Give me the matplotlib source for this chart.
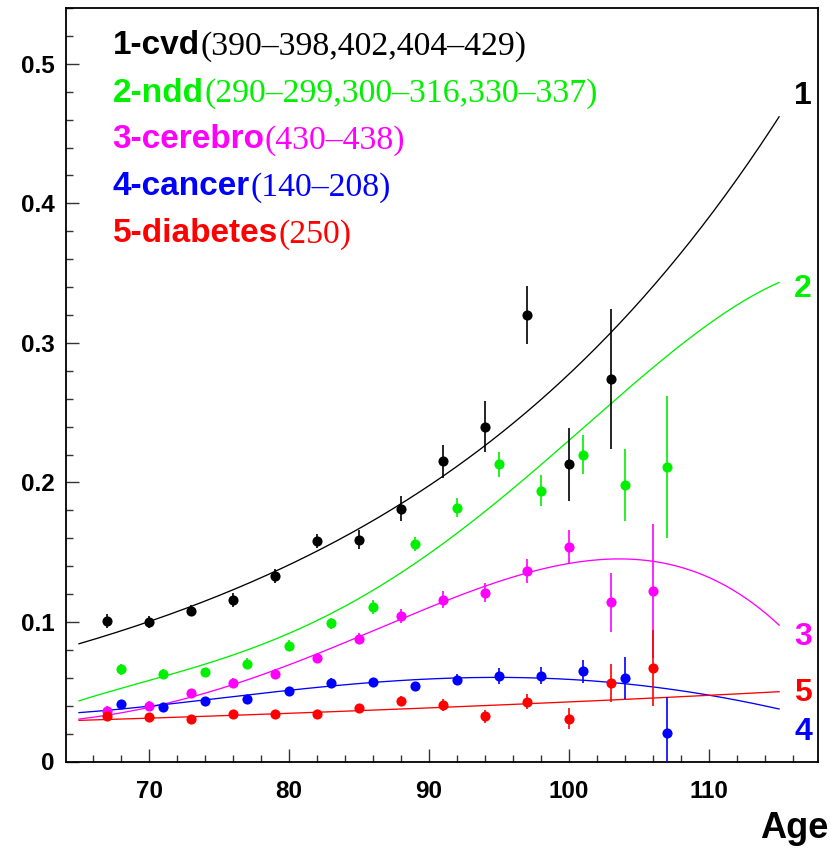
import numpy as np
import matplotlib
matplotlib.use("Agg")
import matplotlib.pyplot as plt
from matplotlib.ticker import MultipleLocator, FuncFormatter

# ---------------- data ----------------
ages_odd = [67, 70, 73, 76, 79, 82, 85, 88, 91, 94, 97, 100, 103]
ages_odd14 = [67, 70, 73, 76, 79, 82, 85, 88, 91, 94, 97, 100, 103, 106]
ages_even = [68, 71, 74, 77, 80, 83, 86, 89, 92, 95, 98, 101, 104, 107]

cvd = [0.101, 0.100, 0.108, 0.116, 0.133, 0.158, 0.159, 0.181, 0.215, 0.240, 0.320, 0.213, 0.274]
cvd_err = [0.005, 0.004, 0.004, 0.005, 0.005, 0.005, 0.007, 0.009, 0.012, 0.018, 0.021, 0.026, 0.050]

ndd = [0.066, 0.063, 0.064, 0.070, 0.083, 0.099, 0.111, 0.156, 0.182, 0.213, 0.194, 0.220, 0.198, 0.211]
ndd_err = [0.004, 0.003, 0.003, 0.004, 0.004, 0.004, 0.005, 0.005, 0.007, 0.009, 0.011, 0.014, 0.026, 0.051]

cerebro = [0.0365, 0.040, 0.0488, 0.0565, 0.063, 0.074, 0.088, 0.104, 0.116, 0.121, 0.1365, 0.154, 0.114, 0.122]
cerebro_err = [0.003, 0.003, 0.003, 0.003, 0.003, 0.003, 0.004, 0.005, 0.006, 0.007, 0.0087, 0.012, 0.021, 0.048]

cancer = [0.0415, 0.039, 0.043, 0.045, 0.0503, 0.0565, 0.057, 0.0538, 0.0587, 0.0612, 0.0615, 0.0645, 0.0598, 0.0203]
cancer_err = [0.002, 0.002, 0.002, 0.002, 0.003, 0.003, 0.003, 0.003, 0.004, 0.0056, 0.006, 0.0083, 0.0148, 0.026]

diabetes = [0.0324, 0.0317, 0.0305, 0.0338, 0.034, 0.034, 0.0381, 0.0436, 0.0405, 0.0324, 0.0427, 0.0307, 0.0565, 0.067]
diabetes_err = [0.002, 0.002, 0.002, 0.002, 0.002, 0.002, 0.003, 0.003, 0.004, 0.0048, 0.0054, 0.0073, 0.0136, 0.027]

# fitted curves at these ages
fit_ages = [65, 70, 75, 80, 85, 90, 95, 100, 105, 110, 115]
fit_cvd = [0.0845, 0.100, 0.119, 0.141, 0.167, 0.198, 0.234, 0.277, 0.330, 0.390, 0.462]
fit_ndd = [0.0436, 0.0572, 0.0737, 0.093, 0.116, 0.147, 0.188, 0.232, 0.274, 0.312, 0.344]
fit_cerebro = [0.0295, 0.0403, 0.053, 0.068, 0.0876, 0.110, 0.131, 0.143, 0.145, 0.129, 0.099]
fit_cancer = [0.0348, 0.040, 0.0455, 0.0508, 0.0556, 0.0588, 0.0604, 0.0598, 0.0545, 0.0467, 0.038]
fit_diabetes = [0.0295, 0.031, 0.0328, 0.0345, 0.0364, 0.0385, 0.0405, 0.0426, 0.045, 0.0475, 0.050]

labels_bold = ["1-cvd", "2-ndd", "3-cerebro", "4-cancer", "5-diabetes"]
labels_codes = ["(390\u2013398,402,404\u2013429)", "(290\u2013299,300\u2013316,330\u2013337)",
                "(430\u2013438)", "(140\u2013208)", "(250)"]
end_labels = ["1", "2", "3", "4", "5"]

# ---------------- style ----------------
GREEN = "#00f000"
colors = ["black", GREEN, "#ff00ff", "#0000ff", "#ff0000"]

W, H = 831, 849
fig = plt.figure(figsize=(W / 100, H / 100), dpi=100)
ax = fig.add_axes([65.7 / W, 1 - 761.5 / H, (818.3 - 65.7) / W, (761.5 - 8) / H])

series = [
    (ages_odd, cvd, cvd_err, fit_cvd),
    (ages_even, ndd, ndd_err, fit_ndd),
    (ages_odd14, cerebro, cerebro_err, fit_cerebro),
    (ages_even, cancer, cancer_err, fit_cancer),
    (ages_odd14, diabetes, diabetes_err, fit_diabetes),
]

fx = np.array(fit_ages, dtype=float)
xs = np.linspace(fx[0], fx[-1], 300)
for (x, y, e, fy), c in zip(series, colors):
    coef = np.polyfit((fx - 90) / 25, np.array(fy), 4)
    ax.plot(xs, np.polyval(coef, (xs - 90) / 25), color=c, lw=0.95, zorder=2)
for (x, y, e, fy), c in zip(series, colors):
    ax.errorbar(x, y, yerr=e, fmt="o", color=c, ms=7.3, elinewidth=1.2,
                capsize=0, mew=0, zorder=3)

ax.set_xlim(64.05, 117.8)
ax.set_ylim(0, 0.540)

ax.xaxis.set_major_locator(MultipleLocator(10))
ax.xaxis.set_minor_locator(MultipleLocator(2))
ax.yaxis.set_major_locator(MultipleLocator(0.1))
ax.yaxis.set_minor_locator(MultipleLocator(0.02))
ax.yaxis.set_major_formatter(FuncFormatter(lambda v, p: "0" if abs(v) < 1e-9 else f"{v:.1f}"))

for s in ax.spines.values():
    s.set_linewidth(1.3)
ax.tick_params(which="both", direction="in", top=False, right=False, width=1.0, color="#333333")
ax.tick_params(which="major", length=9.4)
ax.tick_params(which="minor", length=5.0)
ax.tick_params(axis="y", which="major", pad=8)
ax.tick_params(axis="x", which="major", pad=13.5)
for lab in ax.get_xticklabels() + ax.get_yticklabels():
    lab.set_fontfamily("Liberation Sans")
    lab.set_fontweight("bold")
    lab.set_fontsize(17.5)

# end-of-curve labels
end_y = [0.4714, 0.3327, 0.0837, 0.0156, 0.0436]
for t, yv, c in zip(end_labels, end_y, colors):
    ax.text(116.7, yv, t, color=c, ha="center", va="baseline",
            fontsize=23, fontweight="bold", family="Liberation Sans")

# legend-like header
fig.canvas.draw()
renderer = fig.canvas.get_renderer()
base_px = [54.3, 101.7, 148.5, 195.3, 242.5]
for lb, lc, c, by in zip(labels_bold, labels_codes, colors, base_px):
    t1 = fig.text(112.5 / W, 1 - by / H, lb, color=c, fontsize=24, fontweight="bold",
                  family="Liberation Sans", ha="left", va="baseline")
    bb = t1.get_window_extent(renderer)
    fig.text(bb.x1 / W + 0.5 / W, 1 - by / H, lc, color=c, fontsize=24.3,
             family="Liberation Serif", ha="left", va="baseline")

fig.text(828 / W, 1 - 838 / H, "Age", fontsize=26, fontweight="bold",
         family="Liberation Sans", ha="right", va="baseline")

fig.savefig("out.png", dpi=100)
